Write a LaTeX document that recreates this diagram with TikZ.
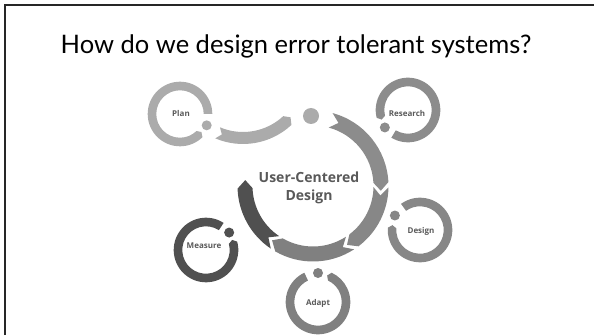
\documentclass[tikz,border=0pt]{standalone}
\usepackage{fontspec}
\setmainfont{Lato}
\newfontfamily\labelfont{Open Sans}
\usepackage{tikz}

\definecolor{plangray}{HTML}{ABABAB}
\definecolor{researchgray}{HTML}{8C8C8C}
\definecolor{designgray}{HTML}{878787}
\definecolor{adaptgray}{HTML}{808080}
\definecolor{measuregray}{HTML}{505050}
\definecolor{labelgray}{HTML}{595959}

\tikzset{
  ringlabel/.style={font=\labelfont\bfseries\fontsize{8}{9}\selectfont, text=labelgray},
  hublabel/.style={font=\labelfont\bfseries\fontsize{14}{18}\selectfont, text=labelgray, align=center},
  slideframe/.style={line width=1.6pt, black!85}
}

% #1 centre, #2 radius, #3 half width, #4 tail angle, #5 head angle, #6 tip, #7 notch, #8 colour
\newcommand{\bandarc}[8]{%
\fill[#8, shift={(#1)}] (#4:{#2+#3}) arc[start angle=#4, end angle=#5, radius={#2+#3}]
-- ({#5+#6}:#2) -- (#5:{#2-#3}) arc[start angle=#5, end angle=#4, radius={#2-#3}]
-- ({#4+#7}:#2) -- cycle;}

\begin{document}
\begin{tikzpicture}[x=1pt, y=1pt]
\useasboundingbox (0, 0) rectangle (594, 335);
\draw[slideframe] (5, 0) -- (5, 330) -- (594, 330);

\node (title) at (296, 289) {\fontsize{25.5}{30}\selectfont How do we design error tolerant systems?};

\bandarc{313,149}{68}{7.5}{75}{3}{-7}{-7}{researchgray}
\bandarc{313,149}{68}{7.5}{-1}{-53}{-7}{-7}{designgray}
\bandarc{313,149}{68}{7.5}{-57}{-120}{-7}{-7}{adaptgray}
\bandarc{313,149}{68}{7.5}{-124}{-178}{-7}{-7}{measuregray}
\fill[plangray] (311, 219) circle (8);
\bandarc{243,262}{65}{6}{-113}{-47}{4}{4}{plangray}
\node[hublabel] (hub) at (309, 147) {User-Centered\\Design};

\bandarc{180,221}{28}{4.3}{0}{314}{6}{0}{plangray}
\fill[plangray] (180, 221) ++(-23:29) circle (5);
\node[ringlabel] (plan) at (181, 221) {Plan};

\bandarc{408,225}{28}{4.3}{239}{554}{6}{0}{researchgray}
\fill[researchgray] (408, 225) ++(217:29) circle (5);
\node[ringlabel] (research) at (407, 221) {Research};

\bandarc{420,105}{28}{4.3}{486}{176}{-6}{0}{designgray}
\fill[designgray] (420, 105) ++(150:29) circle (5);
\node[ringlabel] (design) at (421, 104) {Design};

\bandarc{318,33}{28}{4.3}{115}{425}{6}{0}{adaptgray}
\fill[adaptgray] (318, 33) ++(90:29) circle (5);
\node[ringlabel] (adapt) at (318, 32) {Adapt};

\bandarc{206,85}{28}{4.3}{57}{375}{6}{0}{measuregray}
\fill[measuregray] (206, 85) ++(37:29) circle (5);
\node[ringlabel] (measure) at (204, 89) {Measure};
\end{tikzpicture}
\end{document}
